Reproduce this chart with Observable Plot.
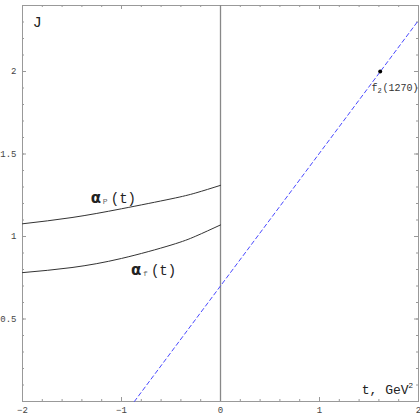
<!DOCTYPE html>
<html><head><meta charset="utf-8">
<script src="https://cdn.jsdelivr.net/npm/d3@7"></script>
<script src="https://cdn.jsdelivr.net/npm/@observablehq/plot@0.6"></script>
<style>body{margin:0;background:#fff}</style>
</head><body><div id="chart"></div>
<script>
const tVals = [-2, -1.5, -1, -0.5, -0.25, 0];
const alphaP = [1.077, 1.115, 1.168, 1.228, 1.264, 1.31];
const alphaF = [0.781, 0.812, 0.867, 0.948, 1.002, 1.07];
const lineT = [-0.87, 2];
const lineJ = [0, 2.31];
const f2T = [1.613];
const f2J = [2.0];
const xMajor = [-2, -1, 0, 1, 2];
const yMajor = [0.5, 1, 1.5, 2];

const P = tVals.map((t,i)=>({t, J: alphaP[i]}));
const F = tVals.map((t,i)=>({t, J: alphaF[i]}));
const L = lineT.map((t,i)=>({t, J: lineJ[i]}));
const pts = f2T.map((t,i)=>({t, J: f2J[i]}));
const xMinor = d3.range(-2, 2.001, 0.2).map(v=>+v.toFixed(2));
const yMinor = d3.range(0, 2.401, 0.1).map(v=>+v.toFixed(2));
const mono = "'Liberation Mono', 'DejaVu Sans Mono', monospace";
const gray = "#999";

const W = 420, H = 420, mL = 22, mR = 2, mT = 5, mB = 19;
const fw = W - mL - mR, fh = H - mT - mB;
const ticks = (len) => [
  Plot.tickX(len === 4 ? xMajor : xMinor, {x: d => d, insetTop: fh - len, stroke: gray}),
  Plot.tickX(len === 4 ? xMajor : xMinor, {x: d => d, insetBottom: fh - len, stroke: gray}),
  Plot.tickY(len === 4 ? yMajor : yMinor, {y: d => d, insetRight: fw - len, stroke: gray}),
  Plot.tickY(len === 4 ? yMajor : yMinor, {y: d => d, insetLeft: fw - len, stroke: gray})
];

const chart = Plot.plot({
  width: W, height: H,
  marginLeft: mL, marginRight: mR, marginTop: mT, marginBottom: mB,
  x: {domain: [-2, 2]},
  y: {domain: [0, 2.4]},
  style: {fontFamily: mono, fontSize: "9px", color: "#444", background: "#fff"},
  marks: [
    Plot.frame({stroke: gray}),
    ...ticks(2), ...ticks(4),
    Plot.axisX(xMajor, {anchor: "bottom", tickSize: 0, tickPadding: 5, label: null, tickFormat: d => d < 0 ? "\u2212" + (-d) : String(d)}),
    Plot.axisY(yMajor, {anchor: "left", tickSize: 0, tickPadding: 6, label: null, tickFormat: d => String(d)}),
    Plot.ruleX([0], {stroke: "#888", strokeWidth: 1.3}),
    Plot.line(P, {x: "t", y: "J", curve: "natural", stroke: "#333", strokeWidth: 1}),
    Plot.line(F, {x: "t", y: "J", curve: "natural", stroke: "#333", strokeWidth: 1}),
    Plot.line(L, {x: "t", y: "J", stroke: "#4a4aff", strokeWidth: 1, strokeDasharray: "4,3"}),
    Plot.dot(pts, {x: "t", y: "J", r: 2, fill: "#000"}),
    Plot.text(["J"], {x: -1.85, y: 2.3, text: d => d, fontSize: 15, fontFamily: mono, fill: "#222"}),
    Plot.text(["t, GeV"], {x: 1.9, y: 0.07, text: d => d, textAnchor: "end", fontSize: 13, fontFamily: mono, fill: "#222"}),
    Plot.text(["2"], {x: 1.9, y: 0.07, text: d => d, textAnchor: "start", dy: -5, fontSize: 8, fontFamily: "Liberation Sans", fill: "#222"}),
    Plot.text(["\u03b1"], {x: -1.31, y: 1.23, text: d => d, textAnchor: "start", fontSize: 15, fontWeight: "bold", fill: "#222", fontFamily: "DejaVu Sans"}),
    Plot.text(["P"], {x: -1.31, y: 1.23, text: d => d, textAnchor: "start", dx: 12, dy: 3, fontSize: 8, fill: "#666", fontFamily: mono}),
    Plot.text(["(t)"], {x: -1.31, y: 1.23, text: d => d, textAnchor: "start", dx: 20, fontSize: 14, fill: "#222", fontFamily: mono}),
    Plot.text(["\u03b1"], {x: -0.905, y: 0.794, text: d => d, textAnchor: "start", fontSize: 15, fontWeight: "bold", fill: "#222", fontFamily: "DejaVu Sans"}),
    Plot.text(["f"], {x: -0.905, y: 0.794, text: d => d, textAnchor: "start", dx: 12, dy: 3, fontSize: 8, fill: "#666", fontFamily: mono}),
    Plot.text(["(t)"], {x: -0.905, y: 0.794, text: d => d, textAnchor: "start", dx: 20, fontSize: 14, fill: "#222", fontFamily: mono}),
    Plot.text(["f"], {x: 1.525, y: 1.9, text: d => d, textAnchor: "start", fontSize: 10, fill: "#333", fontFamily: mono}),
    Plot.text(["2"], {x: 1.525, y: 1.9, text: d => d, textAnchor: "start", dx: 6, dy: 3, fontSize: 7, fill: "#333", fontFamily: mono}),
    Plot.text(["(1270)"], {x: 1.525, y: 1.9, text: d => d, textAnchor: "start", dx: 11, fontSize: 10, fill: "#333", fontFamily: mono})
  ]
});
document.getElementById("chart").appendChild(chart);
</script>
</body></html>
